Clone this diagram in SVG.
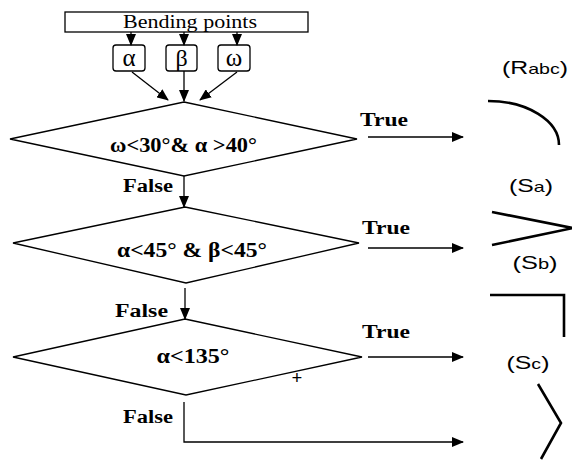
<svg xmlns="http://www.w3.org/2000/svg" width="572" height="460" viewBox="0 0 572 460">
<style>
.ln{stroke:#000;stroke-width:1.3;fill:none}
.shp{stroke:#000;stroke-width:1.3;fill:#fff}
.sym{stroke:#000;stroke-width:2.6;fill:none}
.serif{font-family:"Liberation Serif","Times New Roman",serif;fill:#000}
.b{font-weight:bold}
.sans{font-family:"Liberation Sans",Arial,sans-serif;fill:#000}
</style>
<defs>
<marker id="ah" markerUnits="userSpaceOnUse" markerWidth="12" markerHeight="10" refX="11" refY="5" orient="auto">
<path d="M0,0 L12,5 L0,10 Z" fill="#000"/>
</marker>
</defs>
<rect width="572" height="460" fill="#fff"/>
<g id="bending">
<rect class="shp" x="65" y="12" width="243" height="20"/>
<text class="serif" x="190" y="28" font-size="19" text-anchor="middle" textLength="134" lengthAdjust="spacingAndGlyphs">Bending points</text>
</g>
<g id="alpha">
<rect class="shp" x="113" y="45" width="32" height="26" rx="3"/>
<text class="serif" x="129" y="66" font-size="25" text-anchor="middle">α</text>
</g>
<g id="beta">
<rect class="shp" x="166" y="45" width="31" height="26" rx="3"/>
<text class="serif" x="181.5" y="66" font-size="24" text-anchor="middle">β</text>
</g>
<g id="omega">
<rect class="shp" x="218" y="45" width="32" height="26" rx="3"/>
<text class="serif" x="234" y="66" font-size="25" text-anchor="middle">ω</text>
</g>
<g id="d1">
<polygon class="shp" points="184,102 357,139 184,176 10,139"/>
<text class="serif b" x="183.5" y="152" font-size="20" text-anchor="middle" textLength="147" lengthAdjust="spacingAndGlyphs">ω&lt;30°&amp; α &gt;40°</text>
</g>
<g id="d2">
<polygon class="shp" points="185,207 359,243 186,283 13,243"/>
<text class="serif b" x="192" y="257" font-size="20" text-anchor="middle" textLength="150" lengthAdjust="spacingAndGlyphs">α&lt;45° &amp; β&lt;45°</text>
</g>
<g id="d3">
<polygon class="shp" points="185,319 362,357 186,395 13,357"/>
<text class="serif b" x="193" y="363" font-size="20" text-anchor="middle" textLength="73" lengthAdjust="spacingAndGlyphs">α&lt;135°</text>
<text class="serif b" x="297" y="384" font-size="19" text-anchor="middle">+</text>
</g>
<g id="Rabc">
<text class="sans" x="535" y="74" font-size="19" text-anchor="middle" textLength="66" lengthAdjust="spacingAndGlyphs">(R<tspan font-size="15">abc</tspan>)</text>
<path class="sym" d="M488,101 A71,44 0 0 1 559,145"/>
</g>
<g id="Sa">
<text class="sans" x="531" y="192" font-size="19" text-anchor="middle" textLength="44" lengthAdjust="spacingAndGlyphs">(S<tspan font-size="15">a</tspan>)</text>
<path class="sym" d="M492,212 L573,228 L492,245"/>
</g>
<g id="Sb">
<text class="sans" x="535" y="269" font-size="19" text-anchor="middle" textLength="45" lengthAdjust="spacingAndGlyphs">(S<tspan font-size="15">b</tspan>)</text>
<path class="sym" d="M490,295 L564,295 L564,337"/>
</g>
<g id="Sc">
<text class="sans" x="528" y="369" font-size="19" text-anchor="middle" textLength="43" lengthAdjust="spacingAndGlyphs">(S<tspan font-size="15">c</tspan>)</text>
<path class="sym" d="M538,384 L561,423 L541,459"/>
</g>
<g id="connectors">
<line class="ln" x1="131" y1="32" x2="131" y2="45" marker-end="url(#ah)"/>
<line class="ln" x1="184" y1="32" x2="184" y2="45" marker-end="url(#ah)"/>
<line class="ln" x1="237" y1="32" x2="237" y2="45" marker-end="url(#ah)"/>
<line class="ln" x1="132" y1="72" x2="168" y2="100" marker-end="url(#ah)"/>
<line class="ln" x1="184" y1="71" x2="184" y2="101" marker-end="url(#ah)"/>
<line class="ln" x1="237" y1="72" x2="200" y2="100" marker-end="url(#ah)"/>
<line class="ln" x1="184" y1="176" x2="184" y2="207" marker-end="url(#ah)"/>
<line class="ln" x1="185" y1="288" x2="185" y2="319" marker-end="url(#ah)"/>
<polyline class="ln" points="184,402 184,442 463,442" marker-end="url(#ah)"/>
<line class="ln" x1="368" y1="137" x2="463" y2="137" marker-end="url(#ah)"/>
<line class="ln" x1="368" y1="248" x2="463" y2="248" marker-end="url(#ah)"/>
<line class="ln" x1="368" y1="357" x2="463" y2="357" marker-end="url(#ah)"/>
<text class="serif b" x="123" y="192" font-size="18" textLength="50" lengthAdjust="spacingAndGlyphs">False</text>
<text class="serif b" x="115" y="317" font-size="18" textLength="53" lengthAdjust="spacingAndGlyphs">False</text>
<text class="serif b" x="123" y="423" font-size="18" textLength="50" lengthAdjust="spacingAndGlyphs">False</text>
<text class="serif b" x="360" y="126" font-size="18" textLength="48" lengthAdjust="spacingAndGlyphs">True</text>
<text class="serif b" x="362" y="234" font-size="18" textLength="48" lengthAdjust="spacingAndGlyphs">True</text>
<text class="serif b" x="362" y="338" font-size="18" textLength="48" lengthAdjust="spacingAndGlyphs">True</text>
</g>
</svg>
